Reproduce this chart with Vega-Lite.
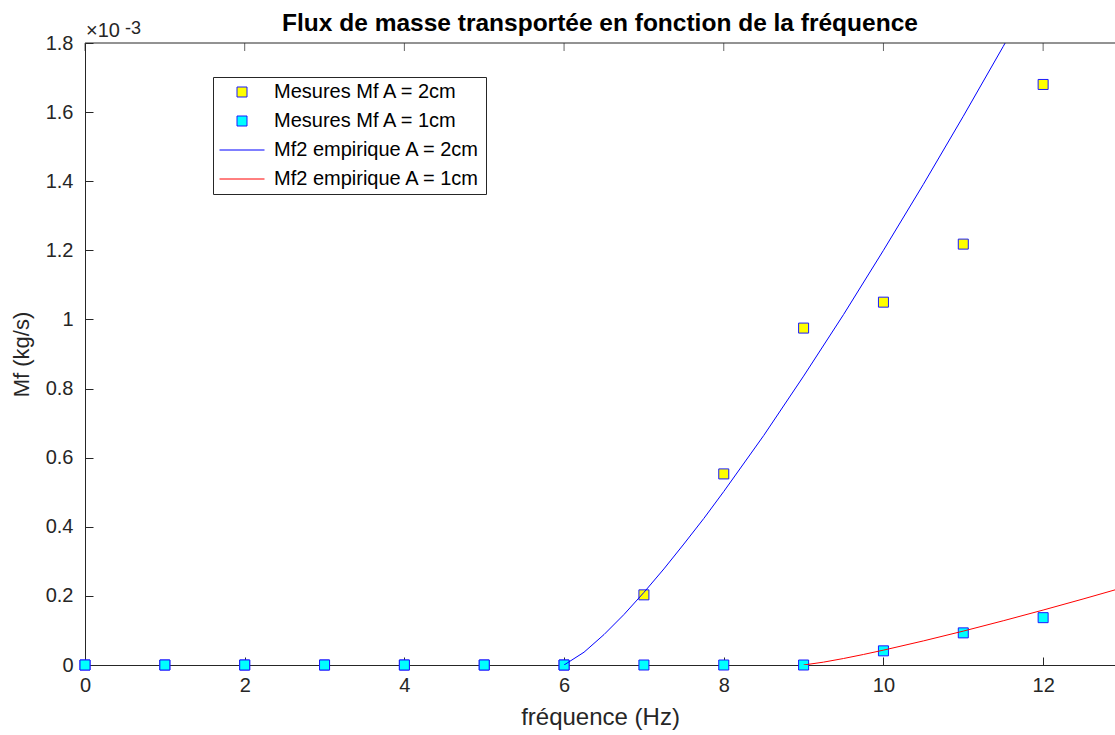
{
  "$schema": "https://vega.github.io/schema/vega-lite/v6.json",
  "width": 1030,
  "height": 622,
  "autosize": {"type": "none"},
  "padding": {"left": 85, "top": 43, "right": 0, "bottom": 70},
  "title": {"text": "Flux de masse transportée en fonction de la fréquence", "fontSize": 24.5, "fontWeight": "bold", "font": "Liberation Sans", "color": "#000000", "anchor": "middle", "baseline": "alphabetic", "offset": -35},
  "data": {"values": [
    {"f": 0, "mf": 0, "series": "Mesures Mf A = 2cm", "kind": "mes"},
    {"f": 1, "mf": 0, "series": "Mesures Mf A = 2cm", "kind": "mes"},
    {"f": 2, "mf": 0, "series": "Mesures Mf A = 2cm", "kind": "mes"},
    {"f": 3, "mf": 0, "series": "Mesures Mf A = 2cm", "kind": "mes"},
    {"f": 4, "mf": 0, "series": "Mesures Mf A = 2cm", "kind": "mes"},
    {"f": 5, "mf": 0, "series": "Mesures Mf A = 2cm", "kind": "mes"},
    {"f": 6, "mf": 0, "series": "Mesures Mf A = 2cm", "kind": "mes"},
    {"f": 7, "mf": 0.203, "series": "Mesures Mf A = 2cm", "kind": "mes"},
    {"f": 8, "mf": 0.553, "series": "Mesures Mf A = 2cm", "kind": "mes"},
    {"f": 9, "mf": 0.975, "series": "Mesures Mf A = 2cm", "kind": "mes"},
    {"f": 10, "mf": 1.05, "series": "Mesures Mf A = 2cm", "kind": "mes"},
    {"f": 11, "mf": 1.218, "series": "Mesures Mf A = 2cm", "kind": "mes"},
    {"f": 12, "mf": 1.68, "series": "Mesures Mf A = 2cm", "kind": "mes"},
    {"f": 0, "mf": 0, "series": "Mesures Mf A = 1cm", "kind": "mes"},
    {"f": 1, "mf": 0, "series": "Mesures Mf A = 1cm", "kind": "mes"},
    {"f": 2, "mf": 0, "series": "Mesures Mf A = 1cm", "kind": "mes"},
    {"f": 3, "mf": 0, "series": "Mesures Mf A = 1cm", "kind": "mes"},
    {"f": 4, "mf": 0, "series": "Mesures Mf A = 1cm", "kind": "mes"},
    {"f": 5, "mf": 0, "series": "Mesures Mf A = 1cm", "kind": "mes"},
    {"f": 6, "mf": 0, "series": "Mesures Mf A = 1cm", "kind": "mes"},
    {"f": 7, "mf": 0, "series": "Mesures Mf A = 1cm", "kind": "mes"},
    {"f": 8, "mf": 0, "series": "Mesures Mf A = 1cm", "kind": "mes"},
    {"f": 9, "mf": 0, "series": "Mesures Mf A = 1cm", "kind": "mes"},
    {"f": 10, "mf": 0.041, "series": "Mesures Mf A = 1cm", "kind": "mes"},
    {"f": 11, "mf": 0.093, "series": "Mesures Mf A = 1cm", "kind": "mes"},
    {"f": 12, "mf": 0.137, "series": "Mesures Mf A = 1cm", "kind": "mes"},
    {"f": 6, "mf": 0, "series": "Mf2 empirique A = 2cm", "kind": "fit"},
    {"f": 6.25, "mf": 0.037, "series": "Mf2 empirique A = 2cm", "kind": "fit"},
    {"f": 6.5, "mf": 0.088, "series": "Mf2 empirique A = 2cm", "kind": "fit"},
    {"f": 6.75, "mf": 0.146, "series": "Mf2 empirique A = 2cm", "kind": "fit"},
    {"f": 7, "mf": 0.21, "series": "Mf2 empirique A = 2cm", "kind": "fit"},
    {"f": 7.25, "mf": 0.278, "series": "Mf2 empirique A = 2cm", "kind": "fit"},
    {"f": 7.5, "mf": 0.35, "series": "Mf2 empirique A = 2cm", "kind": "fit"},
    {"f": 7.75, "mf": 0.424, "series": "Mf2 empirique A = 2cm", "kind": "fit"},
    {"f": 8, "mf": 0.502, "series": "Mf2 empirique A = 2cm", "kind": "fit"},
    {"f": 8.5, "mf": 0.664, "series": "Mf2 empirique A = 2cm", "kind": "fit"},
    {"f": 9, "mf": 0.836, "series": "Mf2 empirique A = 2cm", "kind": "fit"},
    {"f": 9.5, "mf": 1.014, "series": "Mf2 empirique A = 2cm", "kind": "fit"},
    {"f": 10, "mf": 1.2, "series": "Mf2 empirique A = 2cm", "kind": "fit"},
    {"f": 10.5, "mf": 1.391, "series": "Mf2 empirique A = 2cm", "kind": "fit"},
    {"f": 11, "mf": 1.588, "series": "Mf2 empirique A = 2cm", "kind": "fit"},
    {"f": 11.5, "mf": 1.79, "series": "Mf2 empirique A = 2cm", "kind": "fit"},
    {"f": 12, "mf": 1.997, "series": "Mf2 empirique A = 2cm", "kind": "fit"},
    {"f": 9, "mf": 0, "series": "Mf2 empirique A = 1cm", "kind": "fit"},
    {"f": 9.25, "mf": 0.0083, "series": "Mf2 empirique A = 1cm", "kind": "fit"},
    {"f": 9.5, "mf": 0.0188, "series": "Mf2 empirique A = 1cm", "kind": "fit"},
    {"f": 9.75, "mf": 0.0305, "series": "Mf2 empirique A = 1cm", "kind": "fit"},
    {"f": 10, "mf": 0.043, "series": "Mf2 empirique A = 1cm", "kind": "fit"},
    {"f": 10.5, "mf": 0.0697, "series": "Mf2 empirique A = 1cm", "kind": "fit"},
    {"f": 11, "mf": 0.0981, "series": "Mf2 empirique A = 1cm", "kind": "fit"},
    {"f": 11.5, "mf": 0.128, "series": "Mf2 empirique A = 1cm", "kind": "fit"},
    {"f": 12, "mf": 0.159, "series": "Mf2 empirique A = 1cm", "kind": "fit"},
    {"f": 12.5, "mf": 0.191, "series": "Mf2 empirique A = 1cm", "kind": "fit"},
    {"f": 13, "mf": 0.224, "series": "Mf2 empirique A = 1cm", "kind": "fit"}
  ]},
  "layer": [
    {
      "transform": [{"filter": "datum.kind === 'mes'"}],
      "mark": {"type": "point", "filled": true, "size": 100, "strokeWidth": 1, "opacity": 1},
      "encoding": {
        "x": {"field": "f", "type": "quantitative", "scale": {"domain": [0, 12.9], "nice": false, "zero": false},
          "axis": {"orient": "bottom", "values": [0, 2, 4, 6, 8, 10, 12], "format": "~g", "labelFlush": false, "title": "fréquence (Hz)", "tickSize": -8, "labelPadding": 18, "titlePadding": 10, "titleFontSize": 24}},
        "y": {"field": "mf", "type": "quantitative", "scale": {"domain": [0, 1.8], "nice": false},
          "axis": {"values": [0, 0.2, 0.4, 0.6, 0.8, 1, 1.2, 1.4, 1.6, 1.8], "format": "~g", "labelFlush": false, "title": "Mf  (kg/s)", "tickSize": -8, "labelPadding": 20, "titlePadding": 12, "titleFontSize": 22}},
        "fill": {"field": "series", "type": "nominal", "sort": null,
          "scale": {"domain": ["Mesures Mf A = 2cm", "Mesures Mf A = 1cm", "Mf2 empirique A = 2cm", "Mf2 empirique A = 1cm"], "range": ["#ffff00", "#00ffff", "transparent", "transparent"]}, "legend": {"title": null}},
        "stroke": {"field": "series", "type": "nominal", "sort": null,
          "scale": {"domain": ["Mesures Mf A = 2cm", "Mesures Mf A = 1cm", "Mf2 empirique A = 2cm", "Mf2 empirique A = 1cm"], "range": ["#1a1aff", "#1a1aff", "#0000ff", "#ff0000"]}, "legend": {"title": null}},
        "shape": {"field": "series", "type": "nominal", "sort": null,
          "scale": {"domain": ["Mesures Mf A = 2cm", "Mesures Mf A = 1cm", "Mf2 empirique A = 2cm", "Mf2 empirique A = 1cm"], "range": ["square", "square", "M-4.5,0H4.5", "M-4.5,0H4.5"]}, "legend": {"title": null}}
      }
    },
    {
      "transform": [{"filter": "datum.kind === 'fit'"}],
      "mark": {"type": "line", "strokeWidth": 1, "clip": true},
      "encoding": {
        "x": {"field": "f", "type": "quantitative"},
        "y": {"field": "mf", "type": "quantitative"},
        "stroke": {"field": "series", "type": "nominal", "sort": null, "legend": {"title": null}},
        "detail": {"field": "series"},
        "order": {"field": "f"}
      }
    },
    {
      "data": {"values": [{}]},
      "mark": {"type": "rule", "color": "#262626", "strokeWidth": 1},
      "encoding": {"y": {"datum": 1.8, "type": "quantitative"}}
    },
    {
      "data": {"values": [{"f": 0}, {"f": 2}, {"f": 4}, {"f": 6}, {"f": 8}, {"f": 10}, {"f": 12}]},
      "mark": {"type": "tick", "orient": "vertical", "color": "#262626", "size": 8, "thickness": 1, "yOffset": 4},
      "encoding": {"x": {"field": "f", "type": "quantitative"}, "y": {"datum": 1.8, "type": "quantitative"}}
    },
    {
      "data": {"values": [{}]},
      "mark": {"type": "text", "text": "×10", "align": "left", "baseline": "alphabetic", "fontSize": 20, "fontWeight": "normal", "dx": 1, "dy": -6, "color": "#262626"},
      "encoding": {"x": {"datum": 0, "type": "quantitative"}, "y": {"datum": 1.8, "type": "quantitative"}}
    },
    {
      "data": {"values": [{}]},
      "mark": {"type": "text", "text": "-3", "align": "left", "baseline": "alphabetic", "fontSize": 18, "fontWeight": "normal", "dx": 40, "dy": -9, "color": "#262626"},
      "encoding": {"x": {"datum": 0, "type": "quantitative"}, "y": {"datum": 1.8, "type": "quantitative"}}
    }
  ],
  "config": {
    "font": "Liberation Sans",
    "view": {"stroke": null},
    "axis": {"grid": false, "domainColor": "#262626", "tickColor": "#262626", "labelColor": "#262626", "titleColor": "#262626", "labelFontSize": 20, "titleFontWeight": "normal", "labelFont": "Liberation Sans", "titleFont": "Liberation Sans", "domainWidth": 1, "tickWidth": 1},
    "legend": {"orient": "none", "legendX": 128, "legendY": 34, "strokeColor": "#262626", "fillColor": "#ffffff", "padding": 5, "labelFontSize": 20, "labelFont": "Liberation Sans", "labelColor": "#000000", "labelLimit": 400, "symbolSize": 100, "symbolStrokeWidth": 1, "rowPadding": 9, "labelOffset": 22, "symbolOffset": 14, "cornerRadius": 0}
  }
}
